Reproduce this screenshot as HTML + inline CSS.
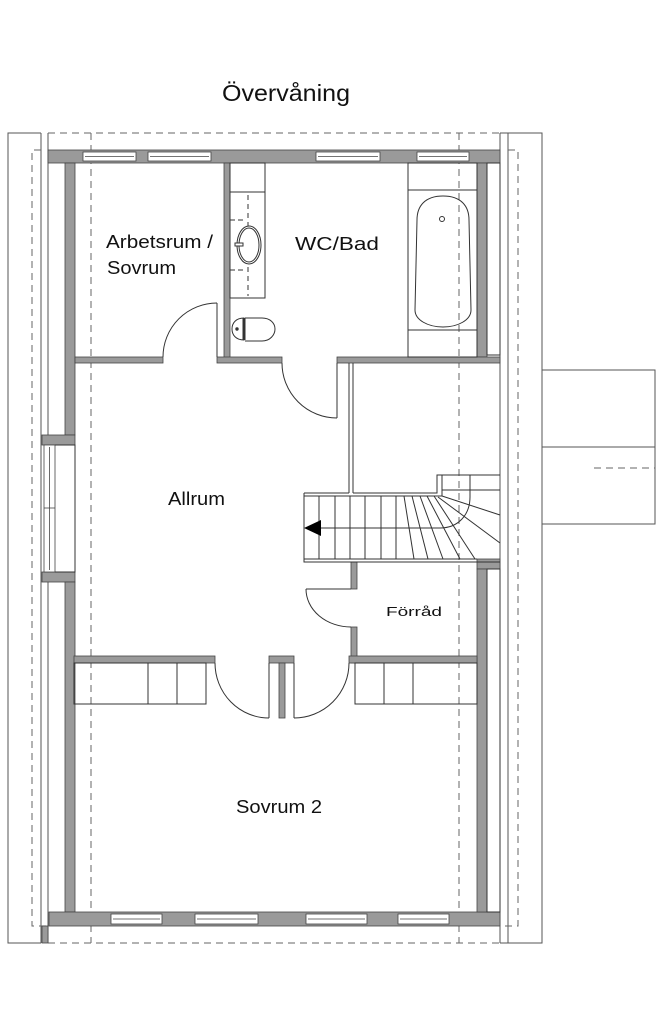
<!DOCTYPE html>
<html><head><meta charset="utf-8"><style>
html,body{margin:0;padding:0;background:#fff;}
svg{display:block;}
text{font-family:"Liberation Sans",sans-serif;fill:#111;}
</style></head><body>
<svg width="663" height="1024" viewBox="0 0 663 1024" xmlns="http://www.w3.org/2000/svg">
<rect width="663" height="1024" fill="#fff"/>
<text x="222" y="101" font-size="23" textLength="128" lengthAdjust="spacingAndGlyphs">Övervåning</text>

<g stroke="#555" stroke-width="1" fill="none">
<polyline points="41,943 8,943 8,133 41,133"/>
<line x1="41" y1="133" x2="41" y2="943"/>
<line x1="48" y1="133" x2="48" y2="943"/>
<polyline points="500,133 542,133 542,943 500,943"/>
<line x1="500" y1="133" x2="500" y2="943"/>
<line x1="508" y1="133" x2="508" y2="943"/>
<rect x="542" y="370" width="113" height="154"/>
<line x1="542" y1="447" x2="655" y2="447"/>
</g>
<g stroke="#666" stroke-width="1" fill="none" stroke-dasharray="7,5">
<line x1="48" y1="133" x2="500" y2="133"/>
<line x1="48" y1="943" x2="500" y2="943"/>
<line x1="91" y1="133" x2="91" y2="943"/>
<line x1="459" y1="133" x2="459" y2="943"/>
<polyline points="41,150 32,150 32,926 48,926"/>
<polyline points="508,150 518,150 518,926 500,926"/>
<line x1="594" y1="468" x2="655" y2="468"/>
</g>

<g fill="#9a9a9a" stroke="#444" stroke-width="0.8">
<rect x="48" y="150" width="452" height="13"/>
<rect x="65" y="163" width="10" height="272"/>
<rect x="42" y="435" width="33" height="10"/>
<rect x="42" y="572" width="33" height="10"/>
<rect x="65" y="582" width="10" height="330"/>
<rect x="49" y="912" width="451" height="14"/>
<rect x="42" y="926" width="6" height="17"/>
<rect x="477" y="163" width="10" height="194"/>
<rect x="224" y="163" width="6" height="195"/>
<rect x="75" y="357" width="88" height="6"/>
<rect x="217" y="357" width="65" height="6"/>
<rect x="337" y="357" width="163" height="6"/>
<rect x="477" y="559" width="23" height="10"/>
<rect x="477" y="569" width="10" height="343"/>
<rect x="351" y="562" width="6" height="27"/>
<rect x="351" y="627" width="6" height="30"/>
<rect x="351" y="657" width="126" height="6"/>
<rect x="74" y="656" width="141" height="7"/>
<rect x="269" y="656" width="25" height="7"/>
<rect x="279" y="663" width="6" height="55"/>
<rect x="349" y="656" width="128" height="7"/>
</g>

<g fill="#fff" stroke="#444" stroke-width="0.8">
<rect x="83" y="152" width="53" height="9"/><line x1="85" y1="156.5" x2="134" y2="156.5"/>
<rect x="148" y="152" width="63" height="9"/><line x1="150" y1="156.5" x2="209" y2="156.5"/>
<rect x="316" y="152" width="64" height="9"/><line x1="318" y1="156.5" x2="378" y2="156.5"/>
<rect x="417" y="152" width="52" height="9"/><line x1="419" y1="156.5" x2="467" y2="156.5"/>
<rect x="111" y="914" width="51" height="10"/><line x1="113" y1="919" x2="160" y2="919"/>
<rect x="195" y="914" width="63" height="10"/><line x1="197" y1="919" x2="256" y2="919"/>
<rect x="306" y="914" width="61" height="10"/><line x1="308" y1="919" x2="365" y2="919"/>
<rect x="398" y="914" width="51" height="10"/><line x1="400" y1="919" x2="447" y2="919"/>
<rect x="44" y="445" width="11" height="127"/><line x1="49.5" y1="447" x2="49.5" y2="570"/><line x1="44" y1="508" x2="55" y2="508"/>
</g>

<g stroke="#333" stroke-width="1" fill="none">
<polyline points="55,445 75,445 75,572 55,572"/>
<rect x="487" y="163" width="13" height="192"/>
<rect x="487" y="569" width="13" height="343"/>
<rect x="230" y="163" width="35" height="135"/>
<line x1="230" y1="192" x2="265" y2="192"/>
<line x1="230" y1="220" x2="245" y2="220" stroke-dasharray="5,3"/>
<line x1="230" y1="270" x2="245" y2="270" stroke-dasharray="5,3"/>
<line x1="248" y1="195" x2="248" y2="296" stroke-dasharray="5,4"/>
<ellipse cx="249" cy="245" rx="12" ry="19" fill="#fff"/>
<ellipse cx="249" cy="245" rx="10" ry="17"/>
<rect x="235" y="243" width="8" height="3" fill="#fff"/>
<path d="M244,318 C236,318 232,323 232,329 C232,335 236,340 244,340 Z"/>
<line x1="243" y1="318" x2="243" y2="340"/><line x1="245" y1="318" x2="245" y2="340"/>
<path d="M245,318 L262,318 C270,318 275,323 275,329 C275,335 270,341 262,341 L245,341"/>
<circle cx="237" cy="329" r="1.2" fill="#333"/>
<rect x="408" y="163" width="69" height="194"/>
<line x1="408" y1="190" x2="477" y2="190"/>
<line x1="408" y1="330" x2="477" y2="330"/>
<path d="M443,196 C425,196 417,206 417,220 L415,310 C415,320 428,327 443,327 C458,327 471,320 471,310 L469,220 C469,206 461,196 443,196 Z"/>
<circle cx="442" cy="219" r="2.5"/>
<line x1="217" y1="303" x2="217" y2="357"/>
<path d="M217,303 A54,54 0 0 0 163,357"/>
<line x1="337" y1="363" x2="337" y2="418"/>
<path d="M282,363 A55,55 0 0 0 337,418"/>
<line x1="349" y1="363" x2="349" y2="493"/><line x1="353" y1="363" x2="353" y2="493"/>
<line x1="306" y1="589" x2="351" y2="589"/>
<path d="M306,589 A45,38 0 0 0 351,627"/>
<line x1="269" y1="663" x2="269" y2="718"/>
<path d="M215,663 A54,55 0 0 0 269,718"/>
<line x1="294" y1="663" x2="294" y2="718"/>
<path d="M349,663 A55,55 0 0 1 294,718"/>
<rect x="74" y="663" width="132" height="41"/>
<line x1="148" y1="663" x2="148" y2="704"/><line x1="177" y1="663" x2="177" y2="704"/>
<rect x="355" y="663" width="122" height="41"/>
<line x1="384" y1="663" x2="384" y2="704"/><line x1="413" y1="663" x2="413" y2="704"/>
<polyline points="304,493 349,493"/>
<polyline points="353,493 437,493 437,475 500,475"/>
<polyline points="304,493 304,562 500,562"/>
<line x1="304" y1="496" x2="442" y2="496"/>
<line x1="304" y1="559" x2="477" y2="559"/>
<line x1="442" y1="490" x2="500" y2="490"/>
<line x1="442" y1="475" x2="442" y2="496"/>
<line x1="319" y1="496" x2="319" y2="559"/>
<line x1="335" y1="496" x2="335" y2="559"/>
<line x1="350" y1="496" x2="350" y2="559"/>
<line x1="365" y1="496" x2="365" y2="559"/>
<line x1="381" y1="496" x2="381" y2="559"/>
<line x1="396" y1="496" x2="396" y2="559"/>
<line x1="404" y1="496" x2="414" y2="559"/>
<line x1="412" y1="496" x2="428" y2="559"/>
<line x1="420" y1="496" x2="443" y2="559"/>
<line x1="427" y1="496" x2="460" y2="559"/>
<line x1="434" y1="496" x2="475" y2="559"/>
<line x1="438" y1="497" x2="500" y2="543"/>
<line x1="442" y1="496" x2="500" y2="515"/>
<path d="M321,528 L440,528 C458,528 470,515 470,497 L470,475"/>
</g>
<polygon points="304,528 321,520 321,536" fill="#000"/>

<text x="106" y="248" font-size="18" textLength="107" lengthAdjust="spacingAndGlyphs">Arbetsrum /</text>
<text x="107" y="274" font-size="18" textLength="69" lengthAdjust="spacingAndGlyphs">Sovrum</text>
<text x="295" y="250" font-size="18" textLength="84" lengthAdjust="spacingAndGlyphs">WC/Bad</text>
<text x="168" y="505" font-size="18" textLength="57" lengthAdjust="spacingAndGlyphs">Allrum</text>
<text x="386" y="616" font-size="13" textLength="56" lengthAdjust="spacingAndGlyphs">Förråd</text>
<text x="236" y="813" font-size="18" textLength="86" lengthAdjust="spacingAndGlyphs">Sovrum 2</text>
</svg>
</body></html>
